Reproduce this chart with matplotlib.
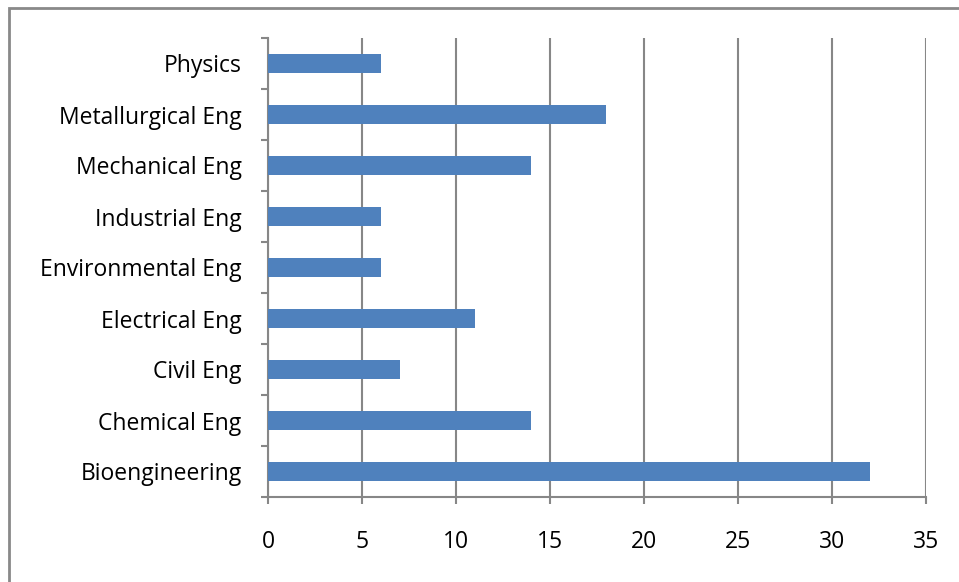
import matplotlib.pyplot as plt
from matplotlib.patches import Rectangle
import numpy as np

# departments, bottom to top
departments = ["Bioengineering", "Chemical Eng", "Civil Eng", "Electrical Eng",
               "Environmental Eng", "Industrial Eng", "Mechanical Eng",
               "Metallurgical Eng", "Physics"]
counts = [32, 14, 7, 11, 6, 6, 14, 18, 6]
xticks = [0, 5, 10, 15, 20, 25, 30, 35]

plt.rcParams['font.family'] = ['Open Sans', 'DejaVu Sans']

fig = plt.figure(figsize=(9.59, 5.82), dpi=100)
ax = fig.add_axes([268 / 959, 85 / 582, 658 / 959, 459 / 582])

y = np.arange(len(departments))
ax.barh(y, counts, height=0.38, color='#4f81bd', zorder=3)

ax.set_xlim(0, 35)
ax.set_ylim(-0.5, len(departments) - 0.5)
ax.set_xticks(xticks)
ax.set_xticklabels([str(v) for v in xticks])
ax.set_yticks(y)
ax.set_yticklabels(departments, va='center_baseline')
ax.set_yticks(np.arange(-0.5, len(departments)), minor=True)

grey = '#878787'
ax.grid(axis='x', color=grey, linewidth=1.5, zorder=0)
for s in ['top', 'right']:
    ax.spines[s].set_visible(False)
for s in ['left', 'bottom']:
    ax.spines[s].set_color(grey)
    ax.spines[s].set_linewidth(1.5)

ax.tick_params(axis='y', which='major', length=0, pad=19, labelsize=16.5, labelcolor='black')
ax.tick_params(axis='y', which='minor', length=5, width=1.5, color=grey, direction='out')
ax.tick_params(axis='x', length=5, width=1.5, color=grey, pad=19, labelsize=16.5)

# outer chart border
fig.patches.append(Rectangle((9 / 959, -0.05), 1.0, 1 - 8 / 582 + 0.05,
                             transform=fig.transFigure, fill=False,
                             edgecolor='#898989', linewidth=2))

fig.savefig('out.png', dpi=100)
